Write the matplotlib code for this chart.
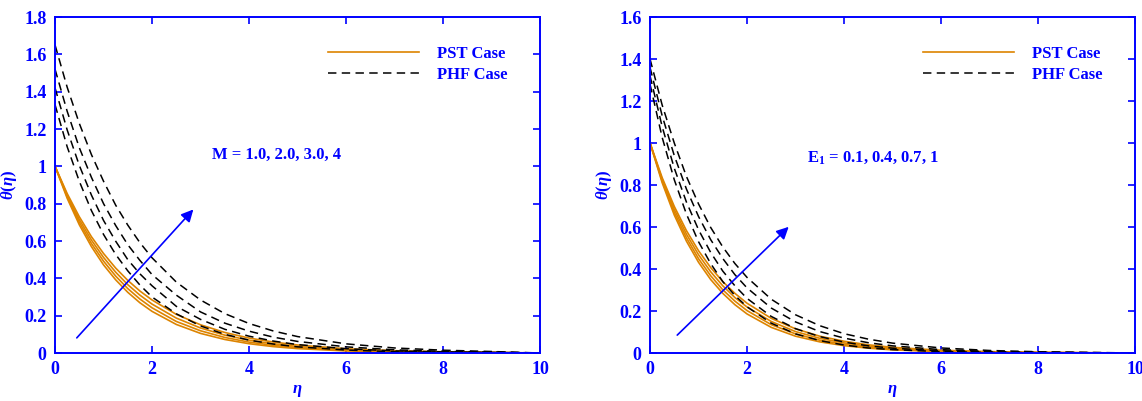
import numpy as np
import matplotlib
matplotlib.use('Agg')
from matplotlib import pyplot as plt
from matplotlib.ticker import FuncFormatter

eta = [0, 0.25, 0.5, 0.75, 1, 1.25, 1.5, 1.75, 2, 2.5, 3, 3.5, 4, 4.5, 5, 6, 7, 8, 9, 10]

# left panel: M = 1.0, 2.0, 3.0, 4
pst_m = [
    [1, 0.854, 0.730, 0.623, 0.533, 0.455, 0.389, 0.332, 0.284, 0.207, 0.151, 0.110, 0.080, 0.0587, 0.0429, 0.0228, 0.0122, 0.0065, 0.0034, 0],
    [1, 0.846, 0.715, 0.605, 0.512, 0.433, 0.366, 0.310, 0.262, 0.187, 0.134, 0.0958, 0.0686, 0.049, 0.0351, 0.018, 0.0092, 0.0047, 0.0024, 0],
    [1, 0.837, 0.701, 0.587, 0.492, 0.412, 0.345, 0.289, 0.242, 0.169, 0.119, 0.0833, 0.0584, 0.041, 0.0287, 0.0141, 0.0069, 0.0034, 0.0017, 0],
    [1, 0.829, 0.687, 0.570, 0.472, 0.392, 0.325, 0.269, 0.223, 0.153, 0.105, 0.0724, 0.0498, 0.0342, 0.0235, 0.0111, 0.0052, 0.0025, 0.0012, 0],
]
phf_m = [
    [1.65, 1.424, 1.23, 1.063, 0.92, 0.792, 0.685, 0.591, 0.51, 0.38, 0.284, 0.211, 0.158, 0.118, 0.088, 0.049, 0.027, 0.015, 0.008, 0],
    [1.52, 1.295, 1.10, 0.941, 0.80, 0.683, 0.58, 0.496, 0.42, 0.31, 0.22, 0.16, 0.117, 0.085, 0.062, 0.033, 0.017, 0.009, 0.005, 0],
    [1.42, 1.195, 1.005, 0.846, 0.71, 0.599, 0.50, 0.424, 0.36, 0.25, 0.18, 0.127, 0.09, 0.064, 0.045, 0.023, 0.011, 0.006, 0.003, 0],
    [1.33, 1.105, 0.92, 0.763, 0.635, 0.528, 0.44, 0.364, 0.30, 0.21, 0.145, 0.10, 0.069, 0.048, 0.033, 0.016, 0.007, 0.004, 0.002, 0],
]

# right panel: E1 = 0.1, 0.4, 0.7, 1
pst_e = [
    [1, 0.835, 0.698, 0.583, 0.487, 0.407, 0.340, 0.284, 0.237, 0.165, 0.115, 0.080, 0.056, 0.039, 0.027, 0.013, 0.0065, 0.0032, 0.0015, 0],
    [1, 0.827, 0.684, 0.566, 0.468, 0.387, 0.320, 0.264, 0.219, 0.150, 0.102, 0.070, 0.048, 0.033, 0.022, 0.0105, 0.0049, 0.0023, 0.0011, 0],
    [1, 0.819, 0.670, 0.549, 0.449, 0.368, 0.301, 0.247, 0.202, 0.135, 0.091, 0.061, 0.041, 0.027, 0.018, 0.0082, 0.0037, 0.0017, 0.0007, 0],
    [1, 0.811, 0.657, 0.533, 0.432, 0.350, 0.284, 0.230, 0.186, 0.122, 0.080, 0.053, 0.035, 0.023, 0.015, 0.0065, 0.0028, 0.0012, 0.0005, 0],
]
phf_e = [
    [1.40, 1.181, 1.00, 0.841, 0.71, 0.598, 0.505, 0.426, 0.36, 0.256, 0.182, 0.13, 0.092, 0.066, 0.047, 0.024, 0.012, 0.006, 0.003, 0],
    [1.36, 1.130, 0.94, 0.781, 0.65, 0.540, 0.45, 0.373, 0.31, 0.214, 0.148, 0.102, 0.071, 0.049, 0.034, 0.016, 0.0076, 0.0037, 0.0018, 0],
    [1.32, 1.078, 0.88, 0.719, 0.587, 0.479, 0.39, 0.320, 0.26, 0.174, 0.116, 0.078, 0.052, 0.034, 0.023, 0.010, 0.0045, 0.002, 0.001, 0],
    [1.28, 1.027, 0.825, 0.662, 0.53, 0.426, 0.34, 0.274, 0.22, 0.142, 0.091, 0.059, 0.038, 0.024, 0.016, 0.0065, 0.0027, 0.0012, 0.0005, 0],
]

blue = '#0000ff'
orange = '#dd8400'
plt.rcParams['font.family'] = ['Liberation Serif', 'DejaVu Serif']
plt.rcParams['font.weight'] = 'bold'
plt.rcParams['mathtext.fontset'] = 'custom'
plt.rcParams['mathtext.it'] = 'Liberation Serif:italic:bold'
plt.rcParams['mathtext.rm'] = 'Liberation Serif:bold'
plt.rcParams['mathtext.bf'] = 'Liberation Serif:bold'

fig = plt.figure(figsize=(11.42, 4.01), dpi=100)
ax1 = fig.add_axes([0.0482, 0.1197, 0.4247, 0.8379])
ax2 = fig.add_axes([0.5692, 0.1197, 0.4247, 0.8379])


def style_axes(ax, ymax):
    ax.set_xlim(0, 10)
    ax.set_ylim(0, ymax)
    ax.set_xticks(np.arange(0, 10.1, 2))
    ax.set_yticks(np.arange(0, ymax + 0.01, 0.2))
    ax.yaxis.set_major_formatter(FuncFormatter(lambda v, p: '%g' % round(v, 1)))
    ax.tick_params(direction='in', length=5, width=1.2, colors=blue, labelsize=13,
                   top=True, right=True, pad=6)
    for lab in ax.get_xticklabels() + ax.get_yticklabels():
        lab.set_fontweight('bold')
    for s in ax.spines.values():
        s.set_color(blue)
        s.set_linewidth(1.4)
    ax.set_xlabel(r'$\eta$', color=blue, fontsize=12, labelpad=3)
    ax.set_ylabel(r'$\theta(\eta)$', color=blue, fontsize=12, labelpad=4)


for ax, pst, phf, ymax in [(ax1, pst_m, phf_m, 1.8), (ax2, pst_e, phf_e, 1.6)]:
    for k in range(4):
        ax.plot(eta, pst[k], color=orange, lw=1.2, label='PST Case' if k == 0 else None)
    for k in range(4):
        ax.plot(eta, phf[k], color='k', lw=1.1, ls=(0, (5.5, 3.5)), label='PHF Case' if k == 0 else None)
    style_axes(ax, ymax)
    leg = ax.legend(loc='upper left', bbox_to_anchor=(0.563, 0.915), frameon=False,
                    handlelength=5.45, handletextpad=1.08, labelspacing=0.32,
                    borderpad=0, borderaxespad=0, prop={'weight': 'bold', 'size': 12})
    for t in leg.get_texts():
        t.set_color(blue)

ax1.annotate('', xy=(2.89, 0.78), xytext=(0.41, 0.07),
             arrowprops=dict(arrowstyle='-|>', color=blue, lw=1.2, mutation_scale=18))
ax1.text(3.24, 1.06, 'M = 1.0, 2.0, 3.0, 4', color=blue, fontsize=12, fontweight='bold', va='center')

ax2.annotate('', xy=(2.9, 0.61), xytext=(0.52, 0.076),
             arrowprops=dict(arrowstyle='-|>', color=blue, lw=1.2, mutation_scale=18))
ax2.text(3.24, 0.93, r'E$_\mathbf{1}$ = 0.1, 0.4, 0.7, 1', color=blue, fontsize=12, fontweight='bold', va='center')

fig.savefig('out.png', dpi=100)
